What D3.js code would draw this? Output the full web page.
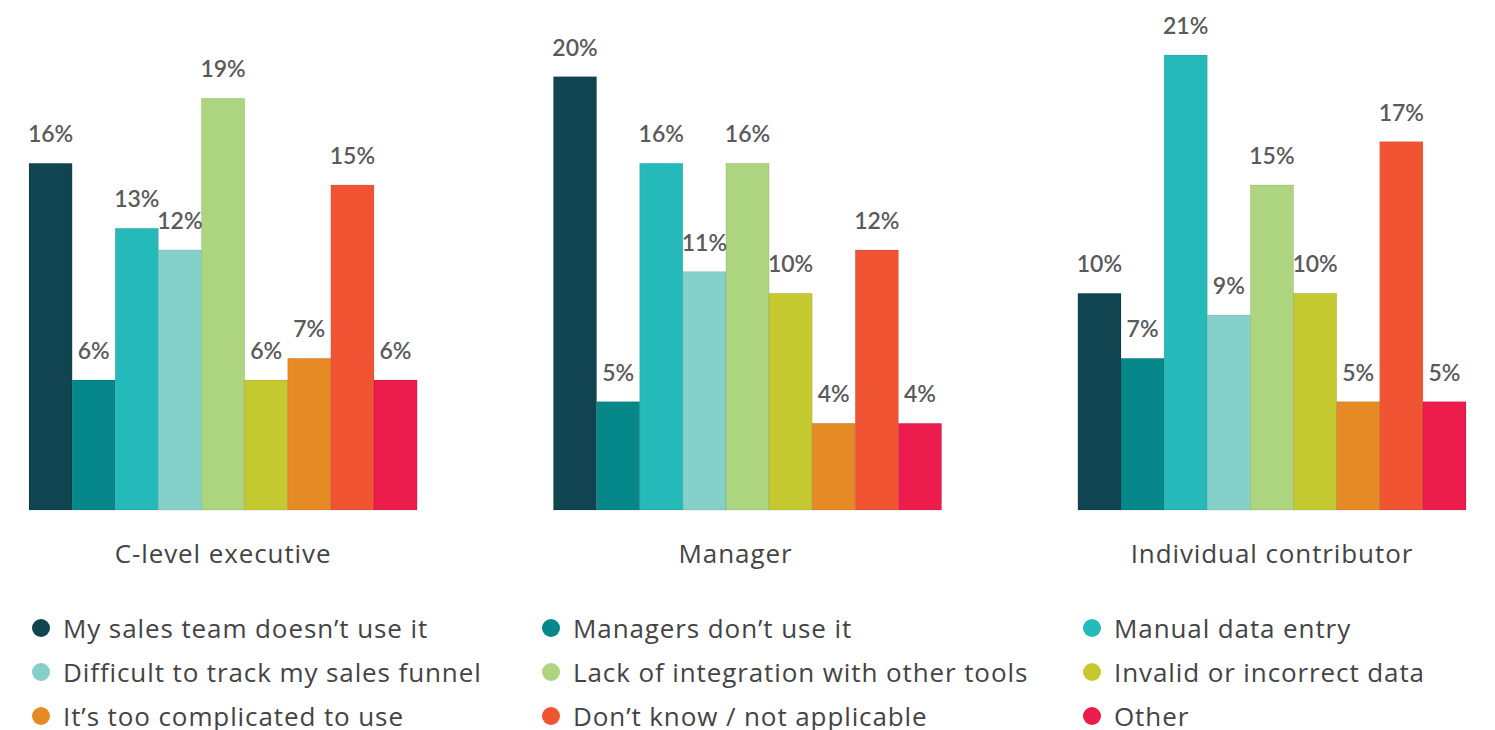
<!DOCTYPE html>
<html>
<head>
<meta charset="utf-8">
<script src="https://cdn.jsdelivr.net/npm/d3@7"></script>
<style>
  body { margin: 0; background: #fff; }
  svg text { font-family: Lato, "Open Sans", sans-serif; }
  svg text.wide { font-family: "Open Sans", Lato, sans-serif; letter-spacing: 0.9px; }
</style>
</head>
<body>
<div id="chart"></div>
<script>
var width = 1495;
var height = 730;

// job functions (groups) and answer categories
var groups = ["C-level executive", "Manager", "Individual contributor"];
var answers = [
  "My sales team doesn\u2019t use it",
  "Managers don\u2019t use it",
  "Manual data entry",
  "Difficult to track my sales funnel",
  "Lack of integration with other tools",
  "Invalid or incorrect data",
  "It\u2019s too complicated to use",
  "Don\u2019t know / not applicable",
  "Other"
];
var colors = ["#0f4450", "#06878a", "#25bab9", "#85d1c9", "#add47f", "#c5c930", "#e68a25", "#f15433", "#ec1c4d"];

// percent values, one array per group, in answer order
var cLevel = [16, 6, 13, 12, 19, 6, 7, 15, 6];
var manager = [20, 5, 16, 11, 16, 10, 4, 12, 4];
var individual = [10, 7, 21, 9, 15, 10, 5, 17, 5];
var values = [cLevel, manager, individual];

var svg = d3.select("#chart").append("svg")
  .attr("width", width)
  .attr("height", height);

var x0 = d3.scaleBand()
  .domain(groups)
  .range([29, 1466])
  .paddingInner(0.26);

var x1 = d3.scaleBand()
  .domain(answers)
  .range([0, x0.bandwidth()]);

var y = d3.scaleLinear()
  .domain([0, 21])
  .range([510, 55]);

var rows = [];
groups.forEach(function(g, gi) {
  answers.forEach(function(a, ai) {
    rows.push({group: g, answer: a, value: values[gi][ai], color: colors[ai]});
  });
});

var bars = svg.append("g");

bars.selectAll("rect")
  .data(rows)
  .enter().append("rect")
  .attr("x", function(d) { return x0(d.group) + x1(d.answer); })
  .attr("y", function(d) { return y(d.value); })
  .attr("width", x1.bandwidth())
  .attr("height", function(d) { return y(0) - y(d.value); })
  .attr("fill", function(d) { return d.color; })
  .attr("stroke", "rgba(0,0,0,0.12)")
  .attr("stroke-width", 0.8);

bars.selectAll("text.val")
  .data(rows)
  .enter().append("text")
  .attr("class", "val")
  .attr("x", function(d) { return x0(d.group) + x1(d.answer) + x1.bandwidth() / 2; })
  .attr("y", function(d) { return y(d.value) - 21; })
  .attr("text-anchor", "middle")
  .attr("fill", "#5a5a5a")
  .style("font-size", "23px")
  .style("font-weight", "600")
  .text(function(d) { return d.value + "%"; });

// group labels under the bars
svg.append("g").selectAll("text")
  .data(groups)
  .enter().append("text")
  .attr("class", "wide")
  .attr("x", function(d) { return x0(d) + x0.bandwidth() / 2 - (d == "Manager" ? 12 : 0); })
  .attr("y", 563)
  .attr("text-anchor", "middle")
  .attr("fill", "#444")
  .style("font-size", "26px")
  .text(function(d) { return d; });

// legend, 3 columns x 3 rows
var legX = [41, 551, 1092];
var legY = [628, 672, 716];

var leg = svg.append("g").selectAll("g")
  .data(answers)
  .enter().append("g")
  .attr("transform", function(d, i) {
    return "translate(" + legX[i % 3] + "," + legY[Math.floor(i / 3)] + ")";
  });

leg.append("circle")
  .attr("r", 9)
  .attr("fill", function(d, i) { return colors[i]; });

leg.append("text")
  .attr("class", "wide")
  .attr("x", 22)
  .attr("y", 10)
  .attr("fill", "#444")
  .style("font-size", "26px")
  .text(function(d) { return d; });
</script>
</body>
</html>
